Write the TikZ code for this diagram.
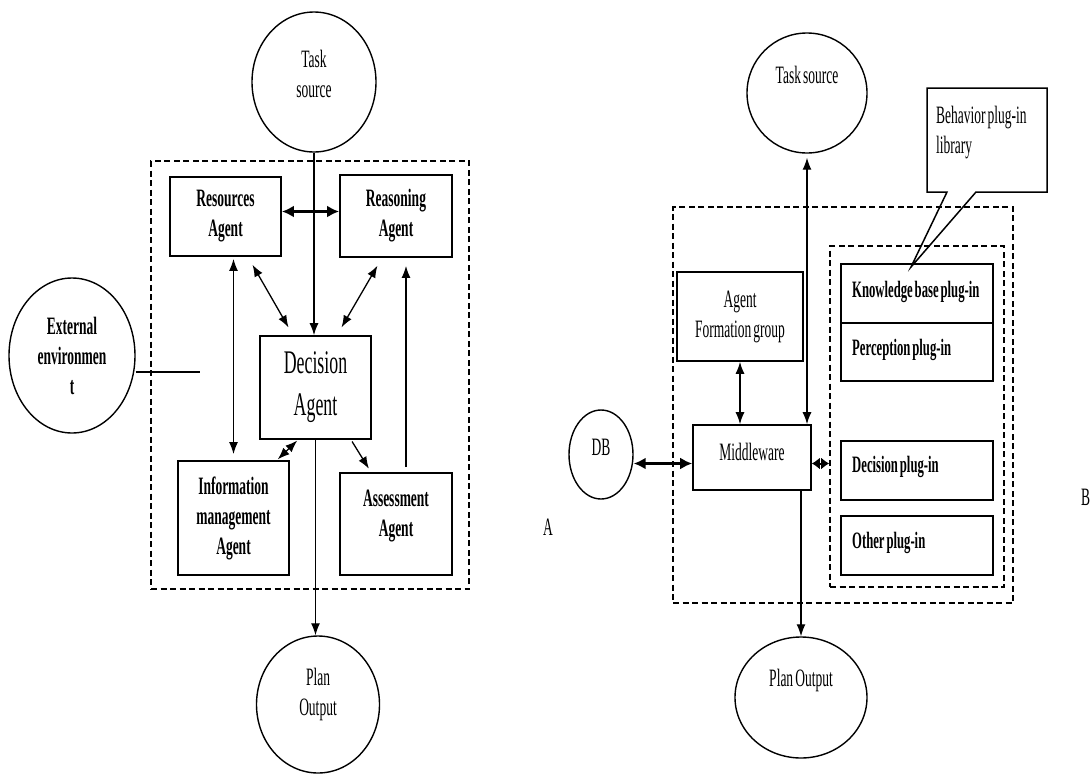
\documentclass[tikz,border=0pt]{standalone}
\usepackage{fontspec}
\newfontfamily\cf{Liberation Serif}[FakeStretch=0.54,WordSpace=0.6]
\newfontfamily\cfb{Liberation Serif Bold}[FakeStretch=0.54,WordSpace=0.6]
\usetikzlibrary{shapes.geometric,arrows.meta,calc}
\newcommand\lblfont{\cf\fontsize{25}{30}\selectfont}
\newcommand\lblbold{\cfb\fontsize{25}{30}\selectfont}
\newcommand\plugbold{\cfb\fontsize{23.5}{28}\selectfont}
\newcommand\bigfont{\cf\fontsize{33}{42}\selectfont}
\begin{document}
\begin{tikzpicture}[x=1pt,y=-1pt,
  box/.style={draw, line width=1.8pt, inner sep=0pt, align=center, font=\lblbold},
  nbox/.style={draw, line width=1.6pt, inner sep=0pt, align=center, font=\lblfont},
  plug/.style={draw, line width=1.8pt, inner sep=0pt, minimum width=152pt},
  oval/.style={draw, ellipse, line width=1.4pt, inner sep=0pt},
  grp/.style={draw, dashed, dash pattern=on 6pt off 3.5pt, line width=1.6pt, inner sep=0pt},
  lbl/.style={font=\lblfont, align=center, inner sep=0pt},
  plbl/.style={font=\plugbold, anchor=west, inner sep=0pt},
  arr/.style={-{Latex[length=12pt,width=9pt]}, line width=1.3pt},
  darr/.style={{Latex[length=12pt,width=9pt]}-{Latex[length=12pt,width=9pt]}, line width=1.3pt},
  tarr/.style={{Latex[length=12pt,width=12pt]}-{Latex[length=12pt,width=12pt]}, line width=3pt},
  sarr/.style={{Latex[length=8pt,width=12pt]}-{Latex[length=8pt,width=12pt]}, line width=2pt}
]
\useasboundingbox (0,0) rectangle (1090,774);

% ---------------- Left diagram (A) ----------------
\node[grp, minimum width=318pt, minimum height=428pt] (grpA) at (310,375) {};
\node[oval, minimum width=124pt, minimum height=140pt] (ts1) at (314,82) {};
\node[lbl] (ts1t) at (314,74) {Task\\source};
\node[oval, minimum width=126pt, minimum height=155pt] (ext) at (72,355.5) {};
\node[lbl, font=\lblbold] (extt) at (72,356) {External\\environmen\\t};
\node[oval, minimum width=123pt, minimum height=137pt] (po1) at (318,704.5) {};
\node[lbl] (po1t) at (318,694) {Plan\\Output};

\node[box, minimum width=111pt, minimum height=79pt] (res) at (225.5,216.5) {Resources\\Agent};
\node[box, minimum width=112pt, minimum height=82pt] (rea) at (396,216) {Reasoning\\Agent};
\node[nbox, minimum width=111pt, minimum height=103pt, font=\bigfont] (dec) at (315.5,387.5) {Decision\\Agent};
\node[box, minimum width=111pt, minimum height=114pt] (info) at (233.5,518) {Information\\management\\Agent};
\node[box, minimum width=112pt, minimum height=102pt] (ass) at (396,524) {};
\node[lbl, font=\lblbold] (asst) at (396,516) {Assessment\\Agent};

\draw[arr] (ts1.south) -- (ts1.south |- dec.north);
\draw[arr] (dec.south) -- (dec.south |- po1.north);
\draw[tarr] ([yshift=5pt]res.east) -- ([yshift=5pt]res.east -| rea.west);
\draw[darr, shorten <=2pt, shorten >=6pt] (res.south -| info.north) -- (info.north);
\draw[darr, shorten <=9pt, shorten >=9pt] ([xshift=22.5pt]res.south) -- ([xshift=-22.5pt]dec.north);
\draw[darr, shorten <=9pt, shorten >=9pt] ([xshift=-14pt]rea.south) -- ([xshift=21.5pt]dec.north);
\draw[darr, shorten <=1pt, shorten >=1pt] ([xshift=43.5pt]info.north) -- ([xshift=-17.5pt]dec.south);
\draw[arr, shorten <=2pt, shorten >=4pt] ([xshift=35.5pt]dec.south) -- ([xshift=-25pt]ass.north);
\draw[arr, shorten <=5pt, shorten >=8pt] ([xshift=10pt]ass.north) -- ([xshift=10pt]rea.south);
\coordinate (envend) at (200,372);
\draw[line width=1.3pt] (envend -| ext.east) -- (envend);

\node[lbl] (labA) at (548,527) {A};

% ---------------- Right diagram (B) ----------------
\node[grp, minimum width=340pt, minimum height=396pt] (grpB) at (843,405) {};
\node[grp, minimum width=174pt, minimum height=341pt] (lib) at (917,416.5) {};
\node[oval, minimum width=120pt, minimum height=120pt] (ts2) at (807,93) {};
\node[lbl] (ts2t) at (807,75) {Task source};
\node[oval, minimum width=64pt, minimum height=89pt] (db) at (601,454.5) {};
\node[lbl] (dbt) at (601,447) {DB};
\node[oval, minimum width=132pt, minimum height=121pt] (po2) at (801,697.5) {};
\node[lbl] (po2t) at (801,680) {Plan Output};

\node[nbox, minimum width=126pt, minimum height=89pt] (afg) at (740,316.5) {Agent\\Formation group};
\node[nbox, minimum width=118pt, minimum height=65pt] (mw) at (752,457.5) {};
\node[lbl] (mwt) at (752,452) {Middleware};

\node[plug, minimum height=59pt] (kb) at (917,293.5) {};
\node[plug, minimum height=58pt] (per) at (917,352) {};
\node[plug, minimum height=59pt] (decp) at (917,470.5) {};
\node[plug, minimum height=59pt] (oth) at (917,545.5) {};
\node[plbl] (kbt) at (852,292) {Knowledge base plug-in};
\node[plbl] (pert) at (852,350) {Perception plug-in};
\node[plbl] (decpt) at (852,467) {Decision plug-in};
\node[plbl] (otht) at (852,543) {Other plug-in};

\draw[line width=1.5pt] (927,88) -- (1047,88) -- (1047,192) -- (976,192) -- (911,267) -- (947,192) -- (927,192) -- cycle;
\node[lbl, anchor=west, align=left] (bpl) at (936,132.5) {Behavior plug-in\\library};

\draw[darr, shorten >=4pt] (mw.north -| ts2.south) -- (ts2.south);
\draw[darr] (afg.south) -- (afg.south |- mw.north);
\draw[tarr] ([yshift=-6pt]mw.west) -- ([yshift=-6pt]mw.west -| db.east);
\draw[sarr] ([yshift=-6pt]mw.east) -- ([yshift=-6pt]mw.east -| lib.west);
\draw[arr] (mw.south -| po2.north) -- (po2.north);

\node[lbl, anchor=west] (labB) at (1081,497) {B};
\end{tikzpicture}
\end{document}
